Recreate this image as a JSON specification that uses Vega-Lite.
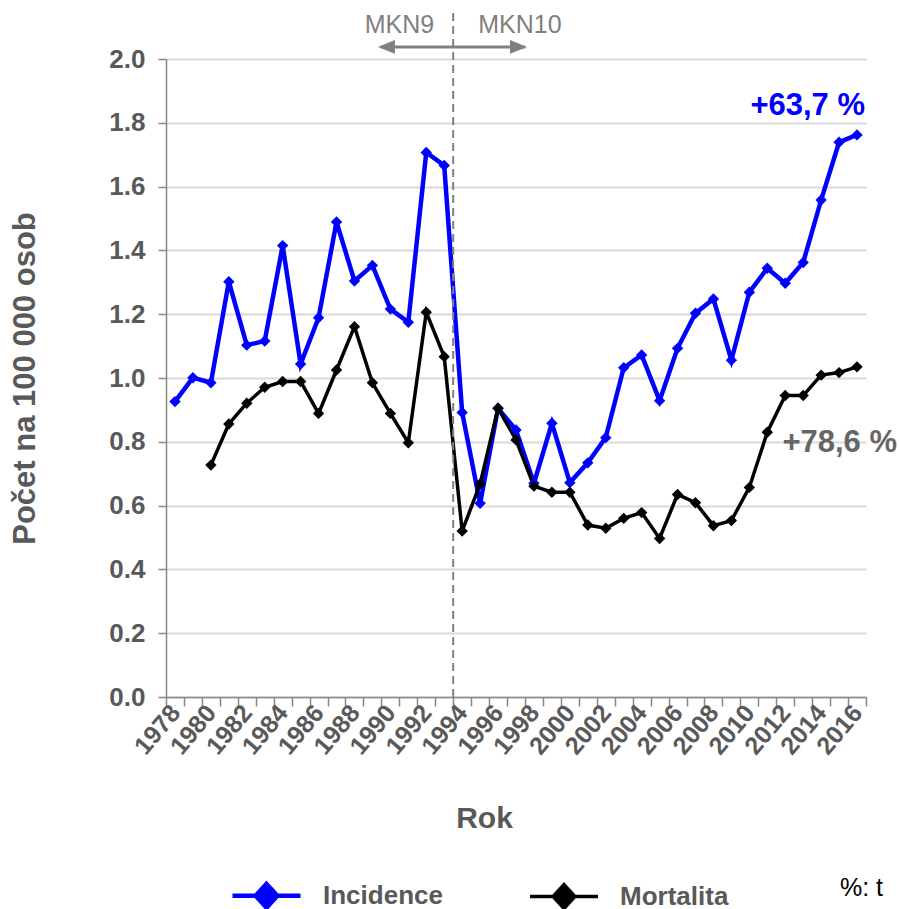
{
  "$schema": "https://vega.github.io/schema/vega-lite/v6.json",
  "width": 700,
  "height": 638,
  "autosize": {"type": "none"},
  "padding": {"left": 166, "top": 59, "right": 33, "bottom": 212},
  "background": "white",
  "config": {"view": {"stroke": null}, "font": "Liberation Sans"},
  "datasets": {
    "main": [
      {"year": 1978, "series": "Incidence", "value": 0.926},
      {"year": 1979, "series": "Incidence", "value": 1.001},
      {"year": 1980, "series": "Incidence", "value": 0.985},
      {"year": 1981, "series": "Incidence", "value": 1.302},
      {"year": 1982, "series": "Incidence", "value": 1.103},
      {"year": 1983, "series": "Incidence", "value": 1.116},
      {"year": 1984, "series": "Incidence", "value": 1.415},
      {"year": 1985, "series": "Incidence", "value": 1.044},
      {"year": 1986, "series": "Incidence", "value": 1.189},
      {"year": 1987, "series": "Incidence", "value": 1.489},
      {"year": 1988, "series": "Incidence", "value": 1.304},
      {"year": 1989, "series": "Incidence", "value": 1.353},
      {"year": 1990, "series": "Incidence", "value": 1.216},
      {"year": 1991, "series": "Incidence", "value": 1.175},
      {"year": 1992, "series": "Incidence", "value": 1.707},
      {"year": 1993, "series": "Incidence", "value": 1.666},
      {"year": 1994, "series": "Incidence", "value": 0.892},
      {"year": 1995, "series": "Incidence", "value": 0.607},
      {"year": 1996, "series": "Incidence", "value": 0.905},
      {"year": 1997, "series": "Incidence", "value": 0.837},
      {"year": 1998, "series": "Incidence", "value": 0.670},
      {"year": 1999, "series": "Incidence", "value": 0.858},
      {"year": 2000, "series": "Incidence", "value": 0.672},
      {"year": 2001, "series": "Incidence", "value": 0.734},
      {"year": 2002, "series": "Incidence", "value": 0.813},
      {"year": 2003, "series": "Incidence", "value": 1.032},
      {"year": 2004, "series": "Incidence", "value": 1.072},
      {"year": 2005, "series": "Incidence", "value": 0.929},
      {"year": 2006, "series": "Incidence", "value": 1.093},
      {"year": 2007, "series": "Incidence", "value": 1.203},
      {"year": 2008, "series": "Incidence", "value": 1.248},
      {"year": 2009, "series": "Incidence", "value": 1.056},
      {"year": 2010, "series": "Incidence", "value": 1.269},
      {"year": 2011, "series": "Incidence", "value": 1.344},
      {"year": 2012, "series": "Incidence", "value": 1.297},
      {"year": 2013, "series": "Incidence", "value": 1.362},
      {"year": 2014, "series": "Incidence", "value": 1.558},
      {"year": 2015, "series": "Incidence", "value": 1.739},
      {"year": 2016, "series": "Incidence", "value": 1.762},
      {"year": 1980, "series": "Mortalita", "value": 0.727},
      {"year": 1981, "series": "Mortalita", "value": 0.856},
      {"year": 1982, "series": "Mortalita", "value": 0.921},
      {"year": 1983, "series": "Mortalita", "value": 0.971},
      {"year": 1984, "series": "Mortalita", "value": 0.989},
      {"year": 1985, "series": "Mortalita", "value": 0.989},
      {"year": 1986, "series": "Mortalita", "value": 0.889},
      {"year": 1987, "series": "Mortalita", "value": 1.025},
      {"year": 1988, "series": "Mortalita", "value": 1.161},
      {"year": 1989, "series": "Mortalita", "value": 0.985},
      {"year": 1990, "series": "Mortalita", "value": 0.889},
      {"year": 1991, "series": "Mortalita", "value": 0.797},
      {"year": 1992, "series": "Mortalita", "value": 1.206},
      {"year": 1993, "series": "Mortalita", "value": 1.067},
      {"year": 1994, "series": "Mortalita", "value": 0.520},
      {"year": 1995, "series": "Mortalita", "value": 0.668},
      {"year": 1996, "series": "Mortalita", "value": 0.905},
      {"year": 1997, "series": "Mortalita", "value": 0.806},
      {"year": 1998, "series": "Mortalita", "value": 0.661},
      {"year": 1999, "series": "Mortalita", "value": 0.642},
      {"year": 2000, "series": "Mortalita", "value": 0.642},
      {"year": 2001, "series": "Mortalita", "value": 0.539},
      {"year": 2002, "series": "Mortalita", "value": 0.529},
      {"year": 2003, "series": "Mortalita", "value": 0.560},
      {"year": 2004, "series": "Mortalita", "value": 0.578},
      {"year": 2005, "series": "Mortalita", "value": 0.497},
      {"year": 2006, "series": "Mortalita", "value": 0.635},
      {"year": 2007, "series": "Mortalita", "value": 0.609},
      {"year": 2008, "series": "Mortalita", "value": 0.537},
      {"year": 2009, "series": "Mortalita", "value": 0.553},
      {"year": 2010, "series": "Mortalita", "value": 0.657},
      {"year": 2011, "series": "Mortalita", "value": 0.830},
      {"year": 2012, "series": "Mortalita", "value": 0.945},
      {"year": 2013, "series": "Mortalita", "value": 0.945},
      {"year": 2014, "series": "Mortalita", "value": 1.009},
      {"year": 2015, "series": "Mortalita", "value": 1.017},
      {"year": 2016, "series": "Mortalita", "value": 1.035}
    ],
    "divider": [{"year": 1994}],
    "arrow": [{"year": 1990}, {"year": 1998}],
    "headLeft": [{"year": 1990}],
    "headRight": [{"year": 1997}],
    "mkn9": [{"year": 1994, "label": "MKN9"}],
    "mkn10": [{"year": 1994, "label": "MKN10"}],
    "incNote": [{"year": 2016, "label": "+63,7 %"}],
    "morNote": [{"year": 2016, "label": "+78,6 %"}]
  },
  "layer": [
    {
      "data": {"name": "main"},
      "mark": {"type": "line"},
      "encoding": {
        "x": {
          "field": "year",
          "type": "ordinal",
          "scale": {
            "domain": [1978,1979,1980,1981,1982,1983,1984,1985,1986,1987,1988,1989,1990,1991,1992,1993,1994,1995,1996,1997,1998,1999,2000,2001,2002,2003,2004,2005,2006,2007,2008,2009,2010,2011,2012,2013,2014,2015,2016],
            "paddingInner": 0,
            "paddingOuter": 0
          },
          "axis": {
            "title": "Rok",
            "labelAngle": -50,
            "labelExpr": "datum.value % 2 == 0 ? datum.label : ''",
            "labelOverlap": false,
            "labelBound": false,
            "tickBand": "extent",
            "grid": false,
            "domainColor": "#868686",
            "domainWidth": 1.5,
            "tickColor": "#868686",
            "tickWidth": 1.5,
            "tickSize": 9,
            "labelFont": "Liberation Sans",
            "labelFontWeight": "bold",
            "labelFontSize": 25,
            "labelColor": "#595959",
            "labelAlign": "right",
            "labelBaseline": "middle",
            "labelPadding": 2,
            "titleFont": "Liberation Sans",
            "titleFontSize": 30,
            "titleFontWeight": "bold",
            "titleColor": "#595959",
            "titleX": 318,
            "titleY": 130,
            "titleBaseline": "alphabetic",
            "titleAlign": "center"
          }
        },
        "y": {
          "field": "value",
          "type": "quantitative",
          "scale": {"domain": [0, 2], "nice": false},
          "axis": {
            "title": "Počet na 100 000 osob",
            "values": [0, 0.2, 0.4, 0.6, 0.8, 1.0, 1.2, 1.4, 1.6, 1.8, 2.0],
            "format": ".1f",
            "grid": true,
            "gridColor": "#d9d9d9",
            "gridWidth": 2,
            "domainColor": "#868686",
            "domainWidth": 1.5,
            "tickColor": "#868686",
            "tickWidth": 1.5,
            "tickSize": 8,
            "labelPadding": 13,
            "labelFont": "Liberation Sans",
            "labelFontWeight": "bold",
            "labelFontSize": 26,
            "labelColor": "#595959",
            "titleFont": "Liberation Sans",
            "titleFontSize": 31,
            "titleFontWeight": "bold",
            "titleColor": "#595959",
            "titleAngle": -90,
            "titleX": -132,
            "titleY": 319,
            "titleBaseline": "alphabetic",
            "titleAlign": "center"
          }
        },
        "color": {
          "field": "series",
          "type": "nominal",
          "scale": {"domain": ["Incidence", "Mortalita"], "range": ["#0000ff", "#000000"]},
          "legend": {
            "orient": "none",
            "legendX": 64,
            "legendY": 800,
            "direction": "horizontal",
            "title": "%: t",
            "titleOrient": "right",
            "titlePadding": 112,
            "titleFont": "Liberation Sans",
            "titleFontSize": 25,
            "titleFontWeight": "normal",
            "titleColor": "#000000",
            "titleAnchor": "middle",
            "titleBaseline": "middle",
            "labelFont": "Liberation Sans",
            "labelFontSize": 26,
            "labelFontWeight": "bold",
            "labelColor": "#595959",
            "labelOffset": 20,
            "labelLimit": 0,
            "columnPadding": 80,
            "symbolType": "M-1,0H1M0,-0.35L0.32,0L0,0.35L-0.32,0Z",
            "symbolSize": 4624,
            "symbolStrokeWidth": 4,
            "encode": {
              "symbols": {
                "update": {
                  "fill": {"scale": "color", "field": "value"},
                  "stroke": {"scale": "color", "field": "value"},
                  "opacity": {"value": 1}
                }
              }
            }
          }
        },
        "strokeWidth": {
          "field": "series",
          "type": "nominal",
          "scale": {"domain": ["Incidence", "Mortalita"], "range": [4.5, 3.5]},
          "legend": null
        }
      }
    },
    {
      "data": {"name": "main"},
      "mark": {"type": "point", "shape": "diamond", "size": 130, "filled": true, "opacity": 1},
      "encoding": {
        "x": {"field": "year", "type": "ordinal"},
        "y": {"field": "value", "type": "quantitative"},
        "color": {"field": "series", "type": "nominal"}
      }
    },
    {
      "data": {"name": "divider"},
      "mark": {"type": "rule", "color": "#808080", "strokeWidth": 2, "strokeDash": [8, 5]},
      "encoding": {
        "x": {"field": "year", "type": "ordinal", "bandPosition": 0},
        "y": {"datum": 0},
        "y2": {"datum": 2.16}
      }
    },
    {
      "data": {"name": "arrow"},
      "mark": {"type": "line", "color": "#808080", "strokeWidth": 3},
      "encoding": {
        "x": {"field": "year", "type": "ordinal", "bandPosition": 0},
        "y": {"datum": 2.038}
      }
    },
    {
      "data": {"name": "headLeft"},
      "mark": {"type": "point", "shape": "M-1,0L1,-0.8L1,0.8Z", "size": 289, "filled": true, "color": "#808080", "opacity": 1},
      "encoding": {
        "x": {"field": "year", "type": "ordinal", "bandPosition": 0.28},
        "y": {"datum": 2.038}
      }
    },
    {
      "data": {"name": "headRight"},
      "mark": {"type": "point", "shape": "M1,0L-1,-0.8L-1,0.8Z", "size": 289, "filled": true, "color": "#808080", "opacity": 1},
      "encoding": {
        "x": {"field": "year", "type": "ordinal", "bandPosition": 0.64},
        "y": {"datum": 2.038}
      }
    },
    {
      "data": {"name": "mkn9"},
      "mark": {"type": "text", "align": "right", "dx": -19, "baseline": "alphabetic", "fontSize": 25, "color": "#7f7f7f", "font": "Liberation Sans"},
      "encoding": {
        "x": {"field": "year", "type": "ordinal", "bandPosition": 0},
        "y": {"datum": 2.082},
        "text": {"field": "label"}
      }
    },
    {
      "data": {"name": "mkn10"},
      "mark": {"type": "text", "align": "left", "dx": 25, "baseline": "alphabetic", "fontSize": 25, "color": "#7f7f7f", "font": "Liberation Sans"},
      "encoding": {
        "x": {"field": "year", "type": "ordinal", "bandPosition": 0},
        "y": {"datum": 2.082},
        "text": {"field": "label"}
      }
    },
    {
      "data": {"name": "incNote"},
      "mark": {"type": "text", "align": "right", "dx": 8, "baseline": "alphabetic", "fontSize": 31, "fontWeight": "bold", "color": "#0000ff", "font": "Liberation Sans"},
      "encoding": {
        "x": {"field": "year", "type": "ordinal"},
        "y": {"datum": 1.824},
        "text": {"field": "label"}
      }
    },
    {
      "data": {"name": "morNote"},
      "mark": {"type": "text", "align": "right", "dx": 40, "baseline": "alphabetic", "fontSize": 31, "fontWeight": "bold", "color": "#666666", "font": "Liberation Sans"},
      "encoding": {
        "x": {"field": "year", "type": "ordinal"},
        "y": {"datum": 0.768},
        "text": {"field": "label"}
      }
    }
  ]
}
